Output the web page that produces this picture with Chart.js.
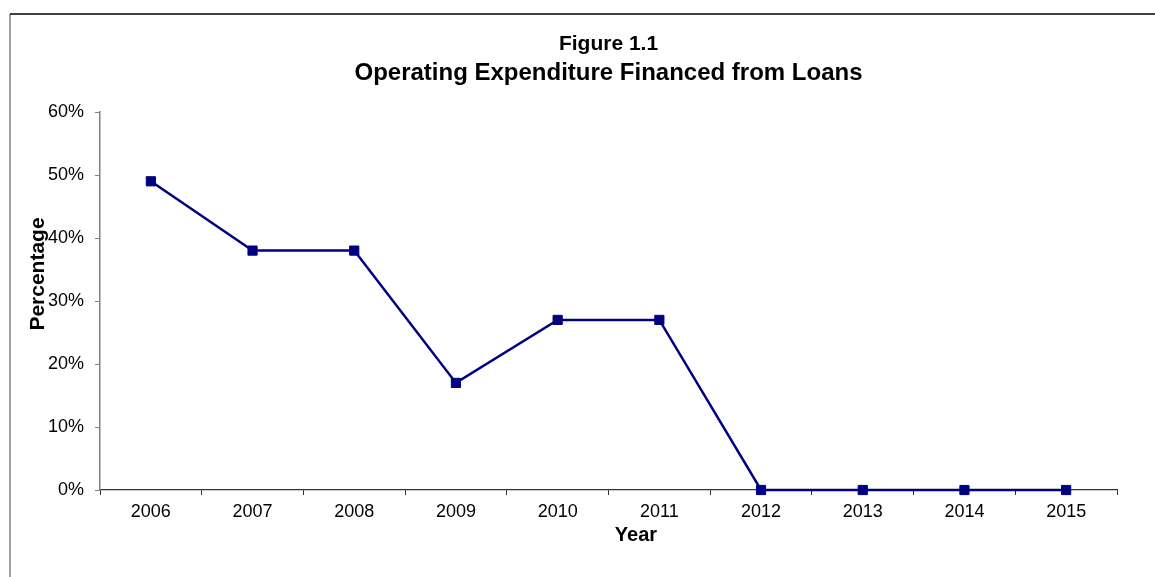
<!DOCTYPE html>
<html>
<head>
<meta charset="utf-8">
<title>Operating Expenditure Financed from Loans</title>
<script src="https://cdn.jsdelivr.net/npm/chart.js@4.4.0/dist/chart.umd.min.js"></script>
<style>
  html, body { margin: 0; padding: 0; background: #fff; }
  #wrap { width: 1155px; height: 577px; position: relative; }
</style>
</head>
<body>
<div id="wrap"><canvas id="loans"></canvas></div>
<script>
// years and share of operating expenditure paid for with loans (%)
const years = ['2006', '2007', '2008', '2009', '2010', '2011', '2012', '2013', '2014', '2015'];
const loanShare = [49, 38, 38, 17, 27, 27, 0, 0, 0, 0];
const yTicks = [0, 10, 20, 30, 40, 50, 60];

const FONT = '"Liberation Sans", Arial, Helvetica, sans-serif';
const NAVY = '#000080';

// frame round the chart plus the two axis captions
const frameAndCaptions = {
  id: 'frameAndCaptions',
  beforeDraw(chart) {
    const ctx = chart.ctx;
    ctx.save();
    ctx.lineWidth = 1.5;
    ctx.strokeStyle = '#808080';
    ctx.beginPath();
    ctx.moveTo(10, 577);
    ctx.lineTo(10, 14);
    ctx.stroke();
    ctx.strokeStyle = '#000';
    ctx.beginPath();
    ctx.moveTo(10, 14);
    ctx.lineTo(1155, 14);
    ctx.stroke();
    ctx.restore();
  },
  afterDraw(chart) {
    const ctx = chart.ctx;
    const area = chart.chartArea;
    ctx.save();
    ctx.fillStyle = '#000';
    ctx.font = 'bold 20px ' + FONT;
    ctx.textAlign = 'center';
    ctx.textBaseline = 'middle';
    ctx.fillText('Year', area.left + 536, area.bottom + 45);
    ctx.font = 'bold 21px ' + FONT;
    ctx.translate(38, area.top + 162);
    ctx.rotate(-Math.PI / 2);
    ctx.fillText('Percentage', 0, 0);
    ctx.restore();
  }
};

new Chart(document.getElementById('loans'), {
  type: 'line',
  data: {
    labels: years,
    datasets: [{
      data: loanShare,
      borderColor: NAVY,
      backgroundColor: NAVY,
      borderWidth: 2.5,
      pointStyle: 'rect',
      pointRadius: 6.5,
      pointBorderWidth: 1,
      pointBackgroundColor: NAVY,
      pointBorderColor: NAVY,
      tension: 0,
      clip: false
    }]
  },
  options: {
    responsive: true,
    maintainAspectRatio: false,
    animation: false,
    layout: { padding: { top: 14, left: 10, right: 38, bottom: 0 } },
    plugins: {
      legend: { display: false },
      tooltip: { enabled: false },
      title: {
        display: true,
        text: 'Figure 1.1',
        fullSize: false,
        color: '#000',
        font: { family: FONT, size: 21, weight: 'bold' },
        padding: { top: 17.4, bottom: 0 }
      },
      subtitle: {
        display: true,
        text: 'Operating Expenditure Financed from Loans',
        fullSize: false,
        color: '#000',
        font: { family: FONT, size: 24, weight: 'bold' },
        padding: { top: 2, bottom: 24.6 }
      }
    },
    scales: {
      x: {
        offset: true,
        afterFit(scale) { scale.height = 87; },
        grid: {
          offset: true,
          drawOnChartArea: false,
          tickLength: 5,
          color: '#333'
        },
        border: { color: '#333', width: 1.2 },
        ticks: {
          color: '#000',
          padding: 6,
          maxRotation: 0,
          font: { family: FONT, size: 18 }
        }
      },
      y: {
        min: 0,
        max: 60,
        afterFit(scale) { scale.width = 90; },
        afterBuildTicks(scale) { scale.ticks = yTicks.map(v => ({ value: v })); },
        grid: {
          drawOnChartArea: false,
          tickLength: 5,
          color: '#808080'
        },
        border: { color: '#808080', width: 1.5 },
        ticks: {
          color: '#000',
          padding: 11,
          font: { family: FONT, size: 18 },
          callback: v => v + '%'
        }
      }
    }
  },
  plugins: [frameAndCaptions]
});
</script>
</body>
</html>
